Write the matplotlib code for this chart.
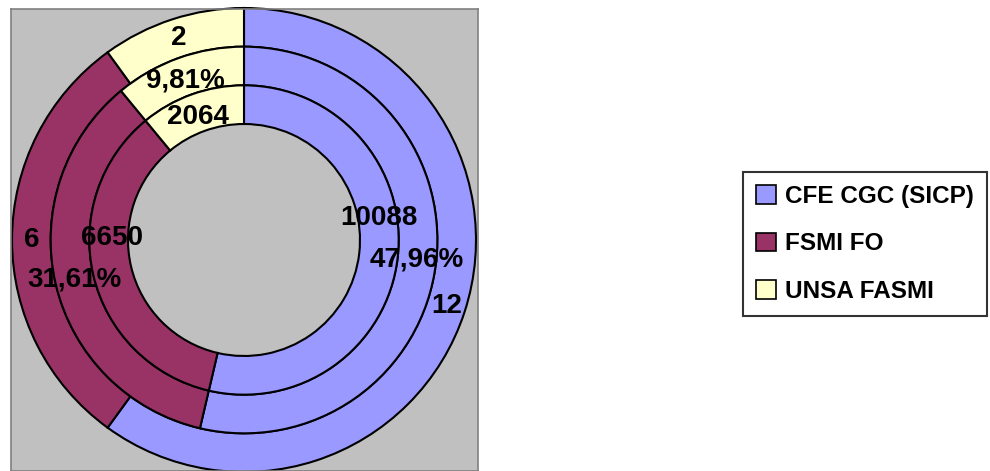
import matplotlib.pyplot as plt
import numpy as np

# data
categories = ['CFE CGC (SICP)', 'FSMI FO', 'UNSA FASMI']
seats = [12, 6, 2]
percents = [47.96, 31.61, 9.81]
votes = [10088, 6650, 2064]
colors = ['#9999FF', '#993366', '#FFFFCC']

plt.rcParams['font.family'] = ['Liberation Sans', 'DejaVu Sans']
plt.rcParams['font.weight'] = 'bold'

fig = plt.figure(figsize=(9.9, 4.71), dpi=100)
# plot area in pixels: left 11, top 9, width 467, height 462
ax = fig.add_axes([11 / 990, 0, 467 / 990, 462 / 471])

ring_w = 0.5 / 3
rings = [
    (seats, [str(v) for v in seats], 1.0),
    (percents, [('%.2f' % v).replace('.', ',') + '%' for v in percents], 1.0 - ring_w),
    (votes, [str(v) for v in votes], 1.0 - 2 * ring_w),
]
# small manual nudges of the inner ring labels (as in the original)
label_dy = [[0, 0, 0], [0, 0, -0.02], [0.16, 0.14, -0.02]]

for i, (vals, labs, r) in enumerate(rings):
    wedges, _ = ax.pie(vals, radius=r, colors=colors, startangle=90, counterclock=False,
                       wedgeprops=dict(width=ring_w, edgecolor='black', linewidth=1.5))
    for j, w in enumerate(wedges):
        ang = np.deg2rad((w.theta1 + w.theta2) / 2)
        rm = r - ring_w / 2
        ax.text(rm * np.cos(ang), rm * np.sin(ang) + label_dy[i][j], labs[j],
                ha='center', va='center', fontsize=20, fontweight='bold')

ax.set_aspect('auto')
ax.set_xlim(-233 / 232, 234 / 232)
ax.set_ylim(-231 / 232, 231 / 232)
ax.set_frame_on(True)
ax.set_facecolor('#C0C0C0')
for s in ax.spines.values():
    s.set_color('#808080')
    s.set_linewidth(1.2)
ax.set_xticks([])
ax.set_yticks([])

handles = [plt.Rectangle((0, 0), 1, 1, facecolor=c, edgecolor='black', linewidth=1.2) for c in colors]
leg = fig.legend(handles, categories, loc='center', bbox_to_anchor=(865 / 990, 1 - 244 / 471),
                 frameon=True, fancybox=False, edgecolor='black',
                 handlelength=0.82, handleheight=0.8, handletextpad=0.35, labelspacing=1.0,
                 borderpad=0.55, borderaxespad=0, prop={'weight': 'bold', 'size': 17.5})
leg.get_frame().set_linewidth(1.5)

fig.savefig('out.png', dpi=100, facecolor='white')
